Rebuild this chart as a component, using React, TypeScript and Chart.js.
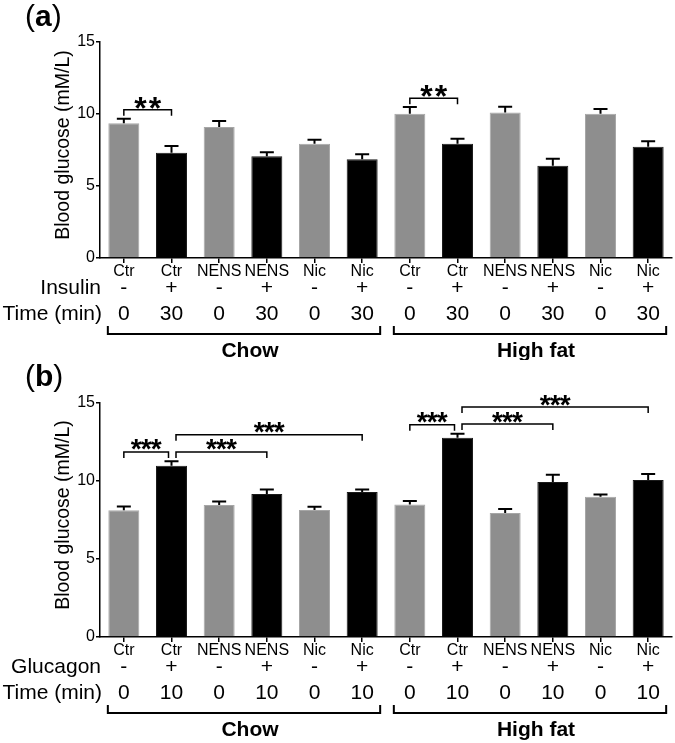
import React, { useEffect, useRef } from 'react';
import { Chart, registerables } from 'chart.js';

Chart.register(...registerables);

const FONT = "'Liberation Sans', Arial, Helvetica, sans-serif";

// ---- data ----
const categories = ['Ctr', 'Ctr', 'NENS', 'NENS', 'Nic', 'Nic', 'Ctr', 'Ctr', 'NENS', 'NENS', 'Nic', 'Nic'];
const treatmentSigns = ['-', '+', '-', '+', '-', '+', '-', '+', '-', '+', '-', '+'];
const timeInsulin = ['0', '30', '0', '30', '0', '30', '0', '30', '0', '30', '0', '30'];
const timeGlucagon = ['0', '10', '0', '10', '0', '10', '0', '10', '0', '10', '0', '10'];

const glucoseInsulin = [9.35, 7.31, 9.1, 7.06, 7.94, 6.85, 10.02, 7.94, 10.11, 6.41, 10.02, 7.73];
const semInsulin = [0.32, 0.47, 0.41, 0.28, 0.28, 0.35, 0.47, 0.34, 0.4, 0.49, 0.33, 0.37];

const glucoseGlucagon = [8.12, 10.98, 8.46, 9.17, 8.14, 9.29, 8.5, 12.78, 7.95, 9.93, 8.99, 10.06];
const semGlucagon = [0.25, 0.28, 0.23, 0.29, 0.21, 0.17, 0.22, 0.25, 0.25, 0.47, 0.15, 0.39];

const yTicks = [0, 5, 10, 15];

const dietGroups = [
  { label: 'Chow', from: 0, to: 5 },
  { label: 'High fat', from: 6, to: 11 },
];

const bracketsInsulin = [
  { from: 0, to: 1, level: 10.3, stars: '**' },
  { from: 6, to: 7, level: 11.1, stars: '**' },
];
const bracketsGlucagon = [
  { from: 0, to: 1, level: 11.86, stars: '***' },
  { from: 1, to: 3, level: 11.86, stars: '***' },
  { from: 1, to: 5, level: 12.97, stars: '***' },
  { from: 6, to: 7, level: 13.6, stars: '***' },
  { from: 7, to: 9, level: 13.65, stars: '***' },
  { from: 7, to: 11, level: 14.74, stars: '***' },
];

const GRAY = '#8e8e8e';
const GRAY_EDGE = '#a6a6a6';
const BLACK = '#000000';

interface PanelCfg {
  letter: string;
  values: number[];
  errors: number[];
  treatLabel: string;
  times: string[];
  brackets: { from: number; to: number; level: number; stars: string }[];
  starSize: number;
  starGap: number;
  bracketInset: number;
  padTop: number;
  xHeight: number;
  canvasHeight: number;
  top: number;
  letterBaseline: number;
}

function drawStars(ctx: CanvasRenderingContext2D, text: string, cx: number, cy: number, size: number, gap: number) {
  ctx.save();
  ctx.font = `bold ${size}px ${FONT}`;
  ctx.textAlign = 'center';
  ctx.textBaseline = 'alphabetic';
  ctx.fillStyle = '#000';
  const m = ctx.measureText('*');
  const asc = m.actualBoundingBoxAscent;
  const desc = m.actualBoundingBoxDescent;
  const base = cy + (asc - desc) / 2;
  const n = text.length;
  for (let k = 0; k < n; k++) {
    ctx.fillText('*', cx + (k - (n - 1) / 2) * gap, base);
  }
  ctx.restore();
}

function makePlugin(cfg: PanelCfg) {
  return {
    id: 'extras',
    afterDatasetsDraw(chart: any) {
      const ctx: CanvasRenderingContext2D = chart.ctx;
      const xs = chart.scales.x;
      const ys = chart.scales.y;
      ctx.save();
      ctx.strokeStyle = '#000';
      ctx.lineWidth = 2;
      cfg.values.forEach((v, i) => {
        const px = xs.getPixelForValue(i);
        const y0 = ys.getPixelForValue(v);
        const y1 = ys.getPixelForValue(v + cfg.errors[i]);
        ctx.beginPath();
        ctx.moveTo(px, y0);
        ctx.lineTo(px, y1);
        ctx.moveTo(px - 7, y1);
        ctx.lineTo(px + 7, y1);
        ctx.stroke();
      });
      ctx.restore();
    },
    afterDraw(chart: any) {
      const ctx: CanvasRenderingContext2D = chart.ctx;
      const xs = chart.scales.x;
      const ys = chart.scales.y;
      const area = chart.chartArea;
      const bottom = ys.getPixelForValue(0);
      ctx.save();
      ctx.fillStyle = '#000';
      ctx.strokeStyle = '#000';

      // panel letter
      ctx.textBaseline = 'alphabetic';
      ctx.textAlign = 'left';
      let lx = 25;
      ctx.font = `30px ${FONT}`;
      ctx.fillText('(', lx, cfg.letterBaseline);
      lx += ctx.measureText('(').width;
      ctx.font = `bold 30px ${FONT}`;
      ctx.fillText(cfg.letter, lx, cfg.letterBaseline);
      lx += ctx.measureText(cfg.letter).width;
      ctx.font = `30px ${FONT}`;
      ctx.fillText(')', lx, cfg.letterBaseline);

      // y title
      ctx.save();
      ctx.translate(64, (area.top + area.bottom) / 2 - 5);
      ctx.rotate(-Math.PI / 2);
      ctx.font = `19.5px ${FONT}`;
      ctx.textAlign = 'center';
      ctx.textBaseline = 'middle';
      ctx.fillText('Blood glucose (mM/L)', 0, 0);
      ctx.restore();

      // significance brackets
      const ends = new Set(cfg.brackets.map((b) => b.to));
      const starts = new Set(cfg.brackets.map((b) => b.from));
      cfg.brackets.forEach((b) => {
        const x0 = xs.getPixelForValue(b.from) + (ends.has(b.from) ? cfg.bracketInset + 1.5 : -cfg.bracketInset * 0 - 0) + (ends.has(b.from) ? 0 : cfg.bracketInset * -1 + cfg.bracketInset);
        const x1 = xs.getPixelForValue(b.to) - (starts.has(b.to) ? cfg.bracketInset : 0);
        const yy = ys.getPixelForValue(b.level);
        ctx.lineWidth = 1.5;
        ctx.beginPath();
        ctx.moveTo(x0, yy + 6);
        ctx.lineTo(x0, yy);
        ctx.lineTo(x1, yy);
        ctx.lineTo(x1, yy + 6);
        ctx.stroke();
        drawStars(ctx, b.stars, (x0 + x1) / 2, yy - 7, cfg.starSize, cfg.starGap);
      });

      // category labels
      ctx.font = `16px ${FONT}`;
      ctx.textAlign = 'center';
      ctx.textBaseline = 'middle';
      categories.forEach((c, i) => ctx.fillText(c, xs.getPixelForValue(i), bottom + 14));

      // treatment and time rows
      ctx.font = `21px ${FONT}`;
      ctx.textAlign = 'right';
      ctx.fillText(cfg.treatLabel, 101, bottom + 30.5);
      ctx.fillText('Time (min)', 102, bottom + 56);
      ctx.textAlign = 'center';
      treatmentSigns.forEach((s, i) => ctx.fillText(s, xs.getPixelForValue(i), bottom + 30.5));
      cfg.times.forEach((t, i) => ctx.fillText(t, xs.getPixelForValue(i), bottom + 56));

      // diet group brackets
      ctx.lineWidth = 2;
      ctx.font = `bold 21px ${FONT}`;
      dietGroups.forEach((g) => {
        const x0 = xs.getPixelForValue(g.from) - 16;
        const x1 = xs.getPixelForValue(g.to) + 18;
        const yy = bottom + 76;
        ctx.beginPath();
        ctx.moveTo(x0, yy - 8);
        ctx.lineTo(x0, yy);
        ctx.lineTo(x1, yy);
        ctx.lineTo(x1, yy - 8);
        ctx.stroke();
        ctx.fillText(g.label, (x0 + x1) / 2 + 6, bottom + 93);
      });
      ctx.restore();
    },
  };
}

function Panel({ cfg }: { cfg: PanelCfg }) {
  const ref = useRef<HTMLCanvasElement>(null);
  useEffect(() => {
    const canvas = ref.current;
    if (!canvas) return;
    const colors = cfg.values.map((_, i) => (i % 2 === 0 ? GRAY : BLACK));
    const edges = cfg.values.map((_, i) => (i % 2 === 0 ? GRAY_EDGE : '#1a1a1a'));
    const chart = new Chart(canvas, {
      type: 'bar',
      data: {
        labels: categories.map((c, i) => `${c}-${i}`),
        datasets: [
          {
            data: cfg.values,
            backgroundColor: colors,
            borderColor: edges,
            borderWidth: 1,
            barPercentage: 0.65,
            categoryPercentage: 1,
          },
        ],
      },
      options: {
        responsive: false,
        animation: false,
        devicePixelRatio: 1,
        layout: { padding: { left: 0, right: 3, top: cfg.padTop, bottom: 0 } },
        plugins: { legend: { display: false }, tooltip: { enabled: false }, title: { display: false } },
        scales: {
          x: {
            type: 'category',
            offset: true,
            grid: {
              display: true,
              offset: false,
              drawOnChartArea: false,
              drawTicks: true,
              tickLength: 5,
              color: '#000',
              lineWidth: 1.5,
            },
            border: { display: true, color: '#000', width: 1.5 },
            ticks: { display: false },
            afterFit: (s: any) => {
              s.height = cfg.xHeight;
            },
          },
          y: {
            min: 0,
            max: 15,
            afterBuildTicks: (s: any) => {
              s.ticks = yTicks.map((v) => ({ value: v }));
            },
            ticks: { color: '#000', font: { family: FONT, size: 16 }, padding: 1 },
            grid: { drawOnChartArea: false, tickLength: 4, color: '#000', lineWidth: 1.5 },
            border: { display: true, color: '#000', width: 1.5 },
            afterFit: (s: any) => {
              s.width = 100;
            },
          },
        },
      } as any,
      plugins: [makePlugin(cfg)],
    });
    return () => chart.destroy();
  }, []);
  return (
    <canvas
      ref={ref}
      width={675}
      height={cfg.canvasHeight}
      style={{ position: 'absolute', left: 0, top: cfg.top, width: 675, height: cfg.canvasHeight, display: 'block' }}
    />
  );
}

const panelA: PanelCfg = {
  letter: 'a',
  values: glucoseInsulin,
  errors: semInsulin,
  treatLabel: 'Insulin',
  times: timeInsulin,
  brackets: bracketsInsulin,
  starSize: 32,
  starGap: 14.5,
  bracketInset: 0,
  padTop: 42,
  xHeight: 102,
  canvasHeight: 360,
  top: 0,
  letterBaseline: 26,
};

const panelB: PanelCfg = {
  letter: 'b',
  values: glucoseGlucagon,
  errors: semGlucagon,
  treatLabel: 'Glucagon',
  times: timeGlucagon,
  brackets: bracketsGlucagon,
  starSize: 28,
  starGap: 10,
  bracketInset: 3,
  padTop: 43,
  xHeight: 106,
  canvasHeight: 383,
  top: 360,
  letterBaseline: 26,
};

export default function App() {
  return (
    <div style={{ position: 'absolute', left: 0, top: 0, width: 675, height: 743, background: '#fff' }}>
      <Panel cfg={panelA} />
      <Panel cfg={panelB} />
    </div>
  );
}
